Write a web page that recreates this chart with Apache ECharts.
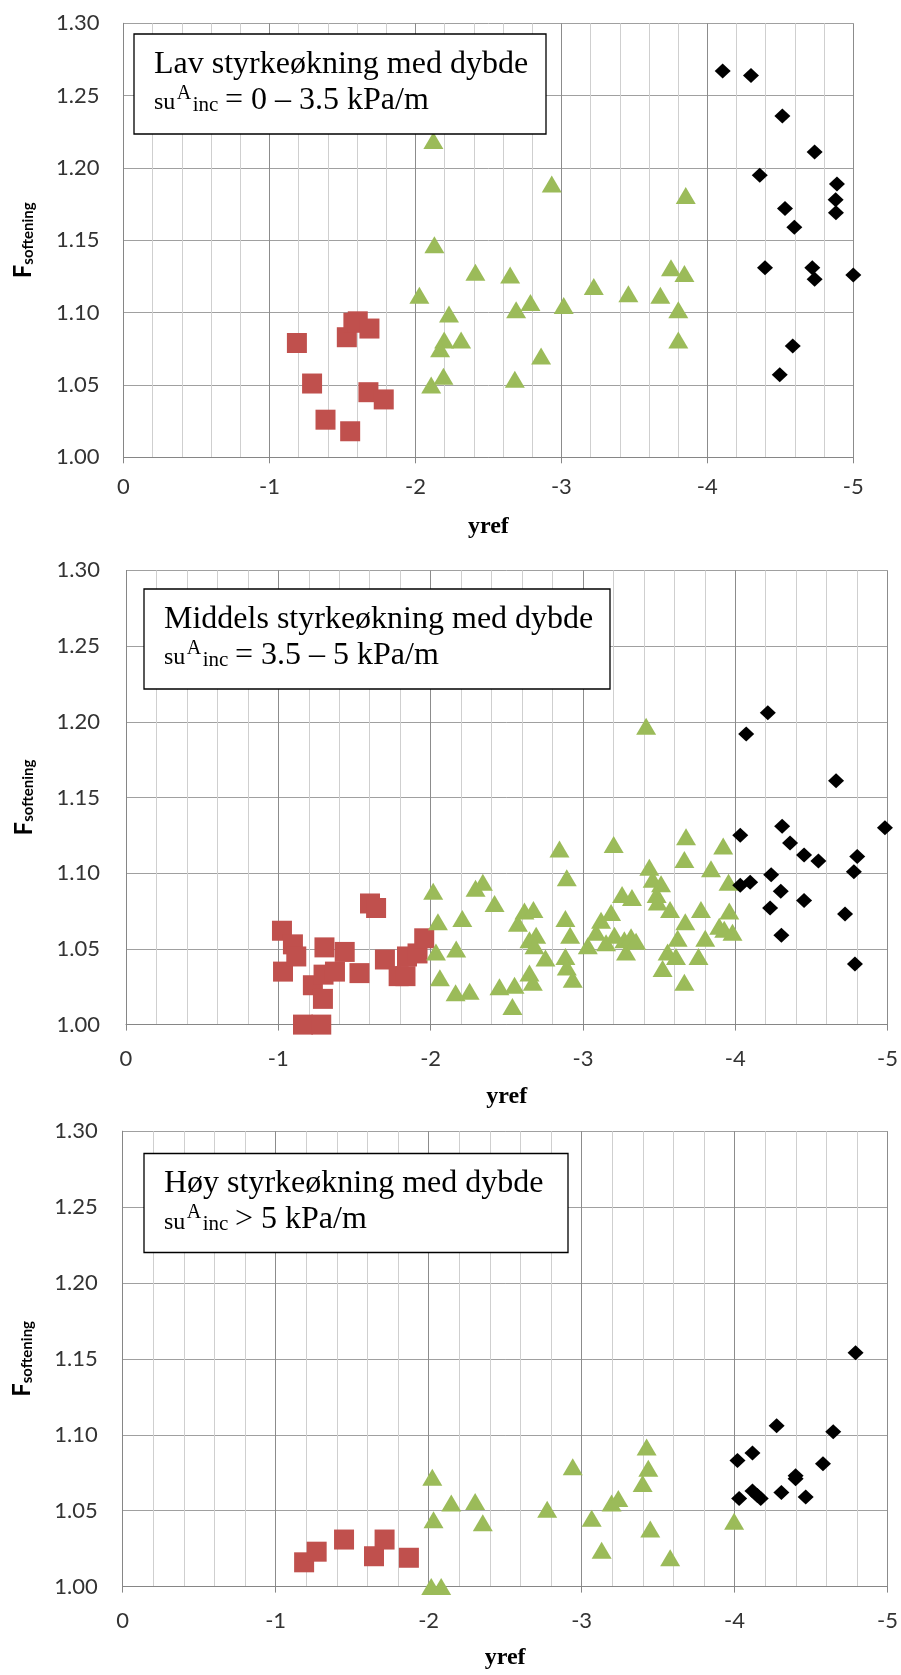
<!DOCTYPE html>
<html>
<head>
<meta charset="utf-8">
<script src="https://cdn.jsdelivr.net/npm/echarts@6/dist/echarts.min.js"></script>
<style>
html,body{margin:0;padding:0;background:#fff;}
#chart{width:901px;height:1675px;}
</style>
</head>
<body>
<div id="chart"></div>
<script>
// ---------------- DATA ----------------
// axis ranges
const xMin = -5, xMax = 0, xStep = 1;
const yMin = 1.00, yMax = 1.30, yStep = 0.05;
const xAxisTitle = 'yref';
const yAxisTitleMain = 'F';
const yAxisTitleSub = 'softening';

// Panel 1: Lav styrkeøkning (su_inc = 0 – 3.5 kPa/m)
const lowTitle = 'Lav styrkeøkning med dybde';
const lowRange = '= 0 – 3.5 kPa/m';
const lowRed = [[-1.188,1.079],[-1.292,1.051],[-1.384,1.026],[-1.553,1.018],[-1.530,1.083],
  [-1.575,1.093],[-1.605,1.094],[-1.685,1.089],[-1.678,1.045],[-1.783,1.040]];
const lowGreen = [[-2.123,1.219],[-2.130,1.147],[-2.027,1.112],[-2.230,1.099],[-2.197,1.081],
  [-2.169,1.075],[-2.108,1.050],[-2.192,1.056],[-2.313,1.081],[-2.411,1.128],[-2.649,1.126],
  [-2.690,1.102],[-2.788,1.107],[-2.681,1.054],[-2.861,1.070],[-2.934,1.189],[-3.016,1.105],
  [-3.222,1.118],[-3.459,1.113],[-3.678,1.112],[-3.751,1.131],[-3.843,1.127],[-3.801,1.102],
  [-3.801,1.081],[-3.852,1.181]];
const lowBlack = [[-4.105,1.267],[-4.299,1.264],[-4.514,1.236],[-4.735,1.211],[-4.359,1.195],
  [-4.888,1.189],[-4.879,1.178],[-4.881,1.169],[-4.532,1.172],[-4.596,1.159],[-4.395,1.131],
  [-4.719,1.131],[-4.735,1.123],[-5.000,1.126],[-4.585,1.077],[-4.496,1.057]];

// Panel 2: Middels styrkeøkning (su_inc = 3.5 – 5 kPa/m)
const midTitle = 'Middels styrkeøkning med dybde';
const midRange = '= 3.5 – 5 kPa/m';
const midRed = [[-1.024,1.062],[-1.031,1.035],[-1.096,1.053],[-1.118,1.045],[-1.162,1.000],
  [-1.282,1.000],[-1.227,1.026],[-1.293,1.017],[-1.303,1.051],[-1.297,1.033],[-1.372,1.035],
  [-1.436,1.048],[-1.533,1.034],[-1.602,1.080],[-1.642,1.077],[-1.700,1.043],[-1.790,1.032],
  [-1.835,1.032],[-1.845,1.045],[-1.914,1.047],[-1.958,1.057]];
const midGreen = [[-2.017,1.088],[-2.048,1.068],[-2.035,1.048],[-2.061,1.031],[-2.208,1.070],
  [-2.168,1.050],[-2.164,1.021],[-2.256,1.022],[-2.295,1.090],[-2.343,1.094],[-2.420,1.080],
  [-2.452,1.025],[-2.551,1.026],[-2.537,1.012],[-2.573,1.067],[-2.616,1.075],[-2.675,1.076],
  [-2.649,1.056],[-2.693,1.059],[-2.682,1.052],[-2.754,1.044],[-2.649,1.034],[-2.671,1.028],
  [-2.846,1.116],[-2.894,1.097],[-2.885,1.070],[-2.916,1.059],[-2.885,1.045],[-2.894,1.038],
  [-2.933,1.030],[-3.032,1.052],[-3.087,1.061],[-3.119,1.069],[-3.185,1.074],[-3.152,1.054],
  [-3.207,1.059],[-3.202,1.119],[-3.257,1.086],[-3.322,1.084],[-3.283,1.048],[-3.272,1.056],
  [-3.316,1.058],[-3.349,1.055],[-3.415,1.197],[-3.436,1.104],[-3.458,1.096],[-3.513,1.093],
  [-3.484,1.086],[-3.491,1.081],[-3.572,1.076],[-3.677,1.124],[-3.666,1.109],[-3.672,1.068],
  [-3.622,1.057],[-3.556,1.048],[-3.611,1.045],[-3.523,1.037],[-3.666,1.028],[-3.775,1.076],
  [-3.803,1.057],[-3.759,1.045],[-3.841,1.103],[-3.921,1.118],[-3.956,1.094],[-3.961,1.075],
  [-3.895,1.065],[-3.928,1.063],[-3.982,1.061]];
const midBlack = [[-4.214,1.206],[-4.072,1.192],[-4.662,1.161],[-4.308,1.131],[-4.983,1.130],
  [-4.033,1.125],[-4.360,1.120],[-4.452,1.112],[-4.546,1.108],[-4.801,1.111],[-4.779,1.101],
  [-4.236,1.099],[-4.033,1.092],[-4.098,1.094],[-4.299,1.088],[-4.452,1.082],[-4.229,1.077],
  [-4.721,1.073],[-4.303,1.059],[-4.786,1.040]];

// Panel 3: Høy styrkeøkning (su_inc > 5 kPa/m)
const highTitle = 'Høy styrkeøkning med dybde';
const highRange = '> 5 kPa/m';
const highRed = [[-1.186,1.016],[-1.268,1.023],[-1.447,1.031],[-1.643,1.020],[-1.712,1.031],
  [-1.871,1.019]];
const highGreen = [[-2.024,1.072],[-2.032,1.044],[-2.148,1.055],[-2.017,1.000],[-2.082,1.000],
  [-2.304,1.056],[-2.354,1.042],[-2.775,1.051],[-2.942,1.079],[-3.066,1.045],[-3.131,1.024],
  [-3.196,1.055],[-3.240,1.058],[-3.425,1.092],[-3.436,1.078],[-3.399,1.068],[-3.449,1.038],
  [-3.579,1.019],[-3.997,1.043]];
const highBlack = [[-4.791,1.154],[-4.275,1.106],[-4.645,1.102],[-4.019,1.083],[-4.117,1.088],
  [-4.578,1.081],[-4.399,1.073],[-4.399,1.071],[-4.117,1.063],[-4.171,1.058],[-4.030,1.058],
  [-4.306,1.062],[-4.465,1.059],[-4.149,1.060]];

// ---------------- LAYOUT ----------------
const panels = [
  {grid:{left:123.5, top:23.3, width:729.8, height:434}, xLabelMargin:19, xNameGap:57, yLabelMargin:24, yNameGap:88,
   box:{x:134, y:34, w:412, h:100}, title:lowTitle, range:lowRange, red:lowRed, green:lowGreen, black:lowBlack},
  {grid:{left:126, top:570.4, width:762.5, height:454.2}, xLabelMargin:23, xNameGap:60, yLabelMargin:26, yNameGap:90,
   box:{x:144, y:589, w:466, h:100}, title:midTitle, range:midRange, red:midRed, green:midGreen, black:midBlack},
  {grid:{left:122.7, top:1131.2, width:766, height:455.4}, xLabelMargin:23, xNameGap:59, yLabelMargin:25, yNameGap:88,
   box:{x:144, y:1153.5, w:424, h:99}, title:highTitle, range:highRange, red:highRed, green:highGreen, black:highBlack}
];

const SERIF = '"Liberation Serif", "Times New Roman", serif';
const SANS = 'Lato, "Open Sans", sans-serif';

function serifText(x, baseline, text, size) {
  return {
    type: 'text', x: x, y: baseline - 0.337 * size, z: 101,
    style: {text: text, fontFamily: SERIF, fontSize: size, fill: '#000',
            align: 'left', verticalAlign: 'middle'}
  };
}

const grids = [], xAxes = [], yAxes = [], series = [], graphics = [];
panels.forEach((p, i) => {
  grids.push(Object.assign({containLabel:false}, p.grid));
  xAxes.push({
    gridIndex: i, type: 'value', min: xMin, max: xMax, interval: xStep, inverse: true,
    axisLine: {show: true, onZero: false, lineStyle: {color: '#868686', width: 1}},
    axisTick: {show: true, length: 6, lineStyle: {color: '#868686'}},
    axisLabel: {fontFamily: SANS, fontSize: 22, color: '#333', margin: p.xLabelMargin},
    splitLine: {show: true, lineStyle: {color: '#8c8c8c', width: 1}},
    minorTick: {show: false, splitNumber: 5},
    minorSplitLine: {show: true, lineStyle: {color: '#cfcfcf', width: 1}},
    name: xAxisTitle, nameLocation: 'middle', nameGap: p.xNameGap,
    nameTextStyle: {fontFamily: SERIF, fontWeight: 'bold', fontSize: 24, color: '#000'}
  });
  yAxes.push({
    gridIndex: i, type: 'value', min: yMin, max: yMax, interval: yStep,
    axisLine: {show: true, lineStyle: {color: '#868686', width: 1}},
    axisTick: {show: false},
    axisLabel: {fontFamily: SANS, fontSize: 22, color: '#333', margin: p.yLabelMargin,
                formatter: v => v.toFixed(2)},
    splitLine: {show: true, lineStyle: {color: '#a0a0a0', width: 1}},
    name: '{F|' + yAxisTitleMain + '}{s|' + yAxisTitleSub + '}',
    nameLocation: 'middle', nameRotate: 90, nameGap: p.yNameGap,
    nameTextStyle: {
      rich: {
        F: {fontFamily: SANS, fontWeight: 'bold', fontSize: 24, color: '#000', lineHeight: 26, verticalAlign: 'bottom'},
        s: {fontFamily: SANS, fontWeight: 'bold', fontSize: 15, color: '#000', lineHeight: 8, verticalAlign: 'bottom'}
      }
    }
  });
  series.push({
    type: 'scatter', xAxisIndex: i, yAxisIndex: i, data: p.red, clip: false, silent: true,
    symbol: 'rect', symbolSize: 20, itemStyle: {color: '#C0504D', opacity: 1}, z: 2
  });
  series.push({
    type: 'scatter', xAxisIndex: i, yAxisIndex: i, data: p.green, clip: false, silent: true,
    symbol: 'triangle', symbolSize: [20, 17], itemStyle: {color: '#9BBB59', opacity: 1}, z: 3
  });
  series.push({
    type: 'scatter', xAxisIndex: i, yAxisIndex: i, data: p.black, clip: false, silent: true,
    symbol: 'diamond', symbolSize: [16, 15], itemStyle: {color: '#000', opacity: 1}, z: 4
  });
  const b = p.box;
  graphics.push({
    type: 'rect', z: 100, shape: {x: b.x, y: b.y, width: b.w, height: b.h},
    style: {fill: '#fff', stroke: '#000', lineWidth: 1.3}
  });
  const tx = b.x + 20;
  graphics.push(serifText(tx, b.y + 41, p.title, 32));
  graphics.push(serifText(tx, b.y + 77, 'su', 24));
  graphics.push(serifText(tx + 22.7, b.y + 66, 'A', 20));
  graphics.push(serifText(tx + 38.7, b.y + 78.5, 'inc', 21));
  graphics.push(serifText(tx + 71, b.y + 77, p.range, 32));
});

const chart = echarts.init(document.getElementById('chart'), null, {renderer: 'canvas'});
chart.setOption({
  animation: false,
  backgroundColor: '#fff',
  grid: grids,
  xAxis: xAxes,
  yAxis: yAxes,
  series: series,
  graphic: graphics
});
</script>
</body>
</html>
